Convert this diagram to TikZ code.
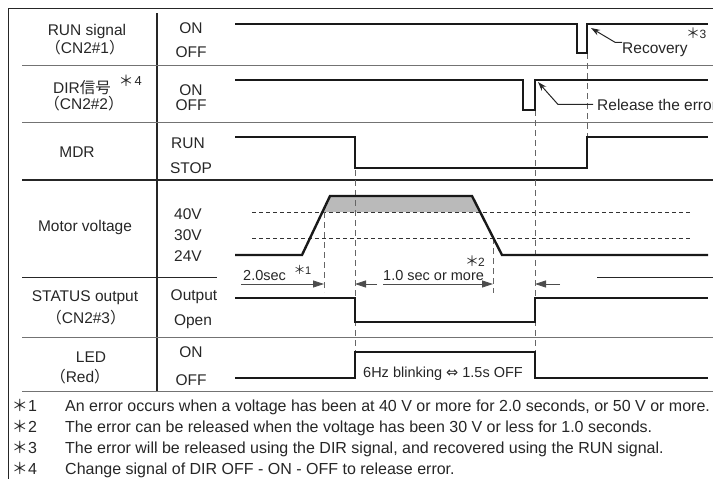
\documentclass[tikz,border=0pt]{standalone}
\usepackage{fontspec}
\setmainfont{Liberation Sans}
\newfontfamily\cjk{Noto Sans CJK JP}
\newfontfamily\dejavu{DejaVu Sans}
\usetikzlibrary{arrows.meta}
\newcommand{\jlp}{{\cjk （}}
\newcommand{\jrp}{{\cjk ）}}

\begin{document}
\begin{tikzpicture}[
    x=1pt, y=-1pt,
    every node/.style={inner sep=0pt, text=black!85},
    lbl/.style={anchor=base, font=\fontsize{15.5}{18}\selectfont},
    note/.style={anchor=base west, font=\fontsize{14.5}{17}\selectfont},
    komestar/.style={anchor=center, font=\cjk\fontsize{#1}{#1}\selectfont},
    komedigit/.style={anchor=base west, font=\fontsize{#1}{#1}\selectfont},
    foot/.style={anchor=base west, font=\fontsize{16}{19}\selectfont},
    frameline/.style={draw=black!85, line width=1.1pt},
    rowline/.style={draw=black!55, line width=1pt},
    wave/.style={draw=black!90, line width=2.4pt},
    level/.style={draw=black!80, line width=0.8pt, dash pattern=on 4pt off 3pt},
    guide/.style={draw=black!60, line width=1pt, dash pattern=on 6pt off 4pt},
    span/.style={draw=black!70, line width=0.8pt, -{Triangle[length=11pt,width=7pt]}},
    leader/.style={draw=black!85, line width=1pt, -{Stealth[length=9pt,width=6pt]}}
]
\useasboundingbox (0,0) rectangle (713,479);
% table frame
\draw[frameline] (713,8.5) -- (8.5,8.5) -- (8.5,479);
\draw[frameline] (157,13) -- (157,391);
\foreach \y in {65,122,337,391}
    \draw[rowline] (22,\y) -- (713,\y);
\draw[frameline] (22,180) -- (713,180);
\draw[frameline] (22,277.5) -- (217,277.5);
\draw[frameline] (597,277.5) -- (713,277.5);

% signal names
\node[lbl] (runLbl) at (87,35) {RUN signal};
\node[lbl] (runCN) at (85,53) {\jlp CN2\#1\jrp};
\node[lbl] (runOn) at (191,33.5) {ON};
\node[lbl] (runOff) at (191,57) {OFF};
\node[lbl] (dirLbl) at (82,93.5) {DIR{\cjk 信号}};
\node[komestar=15] (dirStar) at (126,81) {＊};
\node[komedigit=13] (dirNum) at (134.5,85.5) {4};
\node[lbl] (dirCN) at (84,109) {\jlp CN2\#2\jrp};
\node[lbl] (dirOn) at (191,95) {ON};
\node[lbl] (dirOff) at (191,110) {OFF};
\node[lbl] (mdrLbl) at (77,157) {MDR};
\node[lbl] (mdrRun) at (188,148) {RUN};
\node[lbl] (mdrStop) at (191,173) {STOP};
\node[lbl] (motLbl) at (85,231) {Motor voltage};
\node[lbl] (v40) at (188,219) {40V};
\node[lbl] (v30) at (188,240) {30V};
\node[lbl] (v24) at (188,261) {24V};
\node[lbl] (stsLbl) at (85,301) {STATUS output};
\node[lbl] (stsCN) at (86,323) {\jlp CN2\#3\jrp};
\node[lbl] (stsOut) at (194,300) {Output};
\node[lbl] (stsOpen) at (193,325) {Open};
\node[lbl] (ledLbl) at (91,362) {LED};
\node[lbl] (ledRed) at (80,382) {\jlp Red\jrp};
\node[lbl] (ledOn) at (191,357) {ON};
\node[lbl] (ledOff) at (191,385) {OFF};

% voltage levels
\fill[black!27] (322.4,212) -- (330,196) -- (472,196) -- (479.6,212) -- cycle;
\draw[level] (252,212) -- (692,212);
\draw[level] (252,238) -- (692,238);

% guides
\draw[guide] (324,212) -- (324,292);
\draw[guide] (355,170) -- (355,352);
\draw[guide] (493,238) -- (493,293);
\draw[guide] (535,110) -- (535,352);
\draw[guide] (587,53) -- (587,168);

% waveforms
\draw[wave] (235,24) -- (577,24) -- (577,53) -- (587,53) -- (587,24) -- (708,24);
\draw[wave] (235,80) -- (523,80) -- (523,110) -- (535,110) -- (535,80) -- (708,80);
\draw[wave] (235,137) -- (355,137) -- (355,168) -- (587,168) -- (587,137) -- (708,137);
\draw[wave] (235,255) -- (302,255) -- (330,196) -- (472,196) -- (502,255) -- (708,255);
\draw[wave] (235,298) -- (355,298) -- (355,322) -- (535,322) -- (535,298) -- (708,298);
\draw[wave] (235,378) -- (355,378) -- (355,352) -- (535,352) -- (535,378) -- (708,378);

% timing
\node[note] (sec2) at (243,280) {2.0sec};
\node[komestar=12] (sec2Star) at (299.5,270) {＊};
\node[komedigit=11] (sec2Num) at (305,274.5) {1};
\node[note] (sec1) at (383,280) {1.0 sec or more};
\node[komestar=14] (sec1Star) at (472,261.5) {＊};
\node[komedigit=12] (sec1Num) at (478,266.5) {2};
\coordinate (cross40) at (324,284);
\coordinate (stopT) at (355,284);
\coordinate (cross30) at (493,284);
\coordinate (releaseT) at (535,284);
\draw[span] ([xshift=-2pt,yshift=-4pt]sec2.base west) -- (cross40);
\draw[span] ([xshift=22pt]stopT) -- (stopT);
\draw[span] ([yshift=-4pt]sec1.base west) -- (cross30);
\draw[span] ([xshift=25pt]releaseT) -- (releaseT);
\node[note] (blink) at (363,377) {6Hz blinking {\dejavu ⇔} 1.5s OFF};

% leaders
\node[note, font=\fontsize{15.5}{18}\selectfont] (recov) at (622,53) {Recovery};
\node[komestar=14] (recovStar) at (693,33) {＊};
\node[komedigit=12] (recovNum) at (699.5,38) {3};
\node[note, font=\fontsize{15.5}{18}\selectfont] (release) at (597,110) {Release the error};
\coordinate (runUp) at (591,28);
\coordinate (dirUp) at (538,82);
\draw[leader] ([yshift=7pt]recov.west) -- ++(-7,0) -- (runUp);
\draw[leader] ([xshift=-4pt]release.west) -- ++(-35,0) -- (dirUp);

% footnotes
\foreach \k/\y in {1/411,2/432,3/453,4/474}{
    \node[komestar=16] (fnStar\k) at (20,\y-5.5) {＊};
    \node[komedigit=16] (fnNum\k) at (28,\y) {\k};
}
\node[foot] (fn1) at (65,411) {An error occurs when a voltage has been at 40 V or more for 2.0 seconds, or 50 V or more.};
\node[foot] (fn2) at (65,432) {The error can be released when the voltage has been 30 V or less for 1.0 seconds.};
\node[foot] (fn3) at (65,453) {The error will be released using the DIR signal, and recovered using the RUN signal.};
\node[foot] (fn4) at (65,474) {Change signal of DIR OFF - ON - OFF to release error.};
\end{tikzpicture}
\end{document}
